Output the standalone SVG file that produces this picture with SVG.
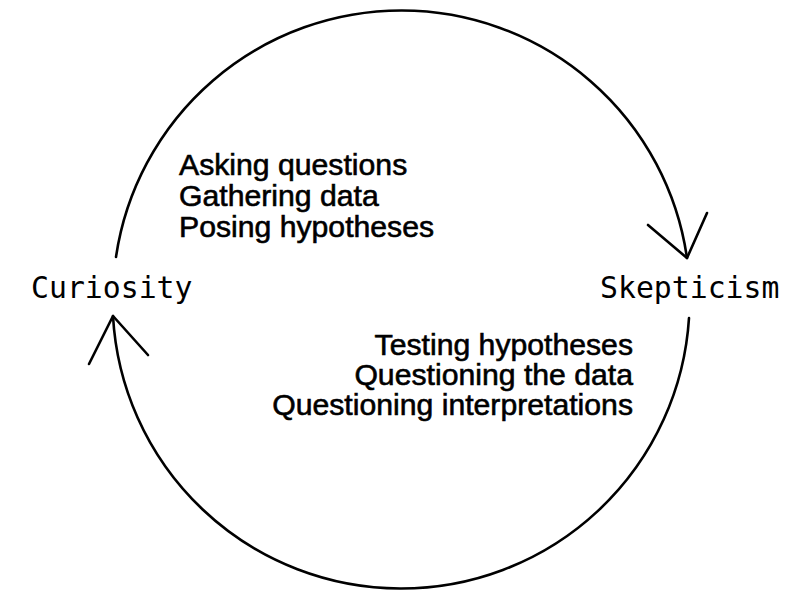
<svg xmlns="http://www.w3.org/2000/svg" width="800" height="600" viewBox="0 0 800 600">
<style>
.c{fill:none;stroke:#000;stroke-width:2.6;stroke-linecap:round;stroke-linejoin:round}
.m{font-family:"DejaVu Sans Mono","Liberation Mono",monospace;font-size:29.8px;fill:#000}
.s{font-family:"Liberation Sans",Arial,sans-serif;font-size:30.2px;fill:#000;stroke:#000;stroke-width:0.6}
</style>
<rect width="800" height="600" fill="#fff"/>
<g id="connectors">
<path class="c" d="M116,257 A288.5,288.5 0 0 1 687,258"/>
<path class="c" d="M648,225 L687,258 L707,213"/>
<path class="c" d="M689,318 A288.5,288.5 0 0 1 113,316"/>
<path class="c" d="M89,364 L113,316 L148,355"/>
</g>
<g id="curiosity"><text class="m" x="31" y="298">Curiosity</text></g>
<g id="skepticism"><text class="m" x="600" y="298">Skepticism</text></g>
<g id="label-top">
<text class="s" x="179" y="175">Asking questions</text>
<text class="s" x="179" y="206">Gathering data</text>
<text class="s" x="179" y="237">Posing hypotheses</text>
</g>
<g id="label-bottom" text-anchor="end">
<text class="s" x="633" y="355">Testing hypotheses</text>
<text class="s" x="633" y="385">Questioning the data</text>
<text class="s" x="633" y="415">Questioning interpretations</text>
</g>
</svg>
